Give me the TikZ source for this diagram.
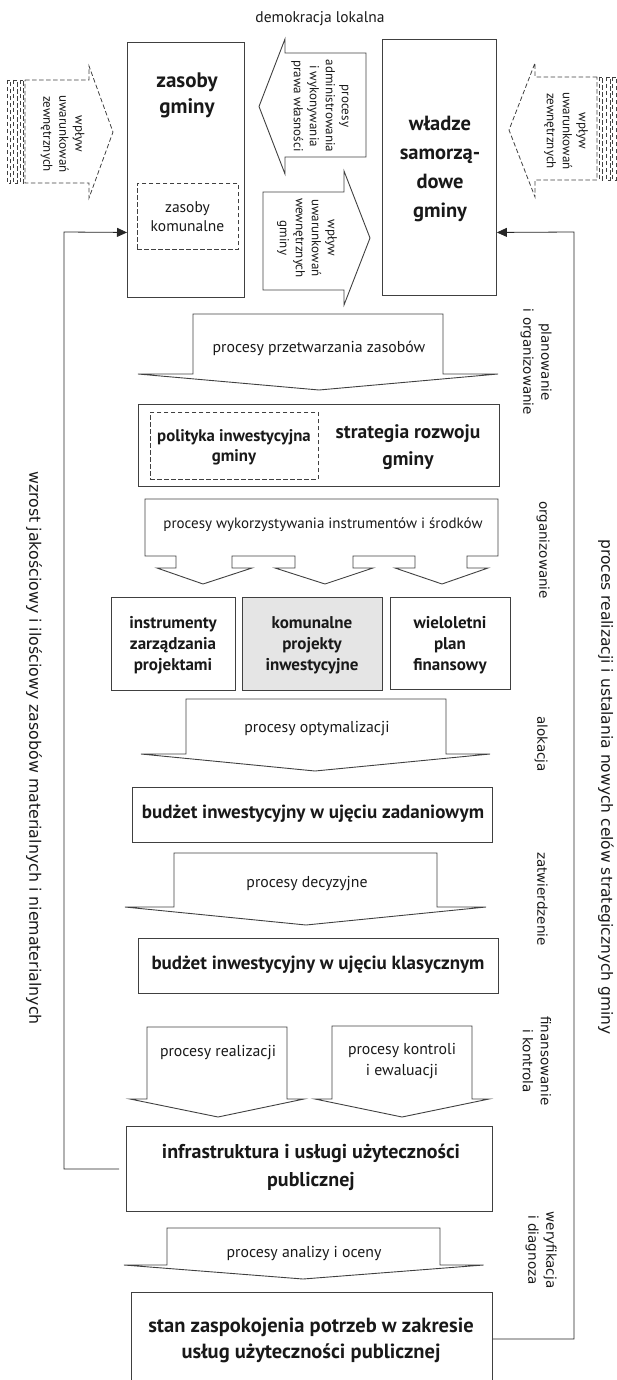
\documentclass[tikz,border=0pt]{standalone}
\usepackage{fontspec}
\setmainfont{PT Sans}
\newfontfamily\sidefont{DejaVu Sans}
\usetikzlibrary{arrows.meta}
\begin{document}
\begin{tikzpicture}[x=1pt,y=-1pt,
  ln/.style={draw=black!75, line width=0.9pt, line join=miter},
  dsh/.style={draw=black!75, line width=0.8pt, dash pattern=on 4.5pt off 2.5pt},
  box/.style={ln, rectangle, inner sep=0pt, anchor=north west},
  dbox/.style={dsh, rectangle, inner sep=0pt, anchor=north west},
  txt/.style={inner sep=0pt, align=center, text=black!90, font=\fontsize{15.8}{18}\selectfont},
  btxt/.style={inner sep=0pt, align=center, text=black!90, font=\bfseries\fontsize{19}{24}\selectfont},
  rtxt/.style={inner sep=0pt, align=center, rotate=-90, text=black!90, font=\fontsize{13}{16}\selectfont},
  stxt/.style={inner sep=0pt, align=center, rotate=-90, text=black!90, font=\sidefont\fontsize{13.5}{18}\selectfont},
  fb/.style={draw=black!85, line width=0.8pt, -{Triangle[length=10pt,width=9pt]}}]
\useasboundingbox (0,0) rectangle (617,1380);

% ---- top row ----
\node[txt, font=\fontsize{15.5}{18}\selectfont] (demo) at (320,19) {demokracja lokalna};

\node[box, minimum width=117pt, minimum height=255pt] (zas) at (127,42) {};
\node[btxt, font=\bfseries\fontsize{21}{26}\selectfont] (zast) at (187,95) {zasoby\\gminy};
\node[dbox, minimum width=101pt, minimum height=66pt] (kom) at (137,183) {};
\node[txt, font=\fontsize{15.5}{19}\selectfont] (komt) at (187.5,216.5) {zasoby\\komunalne};

\node[box, minimum width=114.5pt, minimum height=256pt] (wladze) at (381.5,39) {};
\node[btxt, font=\bfseries\fontsize{20.5}{29}\selectfont] (wladzet) at (440,169) {władze\\samorzą-\\dowe\\gminy};

% arrow: procesy administrowania (left)
\draw[ln] (366,53) -- (285,53) -- (285,39) -- (259,106.5) -- (285,174) -- (285,157) -- (366,157) -- cycle;
\node[rtxt] (adm) at (320,106) {procesy\\administrowania\\i wykonywania\\prawa własności};

% arrow: wpływ uwarunkowań wewnętrznych (right)
\draw[ln] (263,192) -- (344,192) -- (344,171) -- (370,238) -- (344,305) -- (344,290) -- (263,290) -- cycle;
\node[rtxt] (wew) at (307,238) {wpływ\\uwarunkowań\\wewnętrznych\\gminy};

% dashed left arrow
\draw[dsh] (7,80) rectangle (10.5,183);
\draw[dsh] (13,80) rectangle (17,183);
\draw[dsh] (20.5,80) rectangle (23.5,183);
\draw[dsh] (25,80) -- (89,80) -- (89,66) -- (113,132) -- (89,198) -- (89,183) -- (25,183) -- cycle;
\node[rtxt] (zewL) at (62.5,134) {wpływ\\uwarunkowań\\zewnętrznych};

% dashed right arrow
\draw[dsh] (599.5,77) rectangle (602.5,180);
\draw[dsh] (606,77) rectangle (610,180);
\draw[dsh] (612.5,77) rectangle (616,180);
\draw[dsh] (597,77) -- (535,77) -- (535,63) -- (509,130) -- (535,197) -- (535,180) -- (597,180) -- cycle;
\node[rtxt] (zewR) at (566,131) {wpływ\\uwarunkowań\\zewnętrznych};

% ---- A1 ----
\draw[ln] (193,314) -- (443,314) -- (443,374) -- (498,374) -- (319,390) -- (138,374) -- (193,374) -- cycle;
\node[txt] (a1) at (319,348) {procesy przetwarzania zasobów};
\node[stxt] (plan) at (536,362) {planowanie\\i organizowanie};

\node[box, minimum width=361pt, minimum height=82pt] (strat) at (138,404) {};
\node[dbox, minimum width=168pt, minimum height=67pt] (pol) at (150,412) {};
\node[btxt, font=\bfseries\fontsize{16.8}{20}\selectfont] (polt) at (234,447) {polityka inwestycyjna\\gminy};
\node[btxt, font=\bfseries\fontsize{19.5}{27}\selectfont] (stratt) at (408,447.5) {strategia rozwoju\\gminy};

% ---- A2 (three heads) ----
\draw[ln] (145,499) -- (498,499) -- (498,556) -- (467,556) -- (467,568) -- (488,568) -- (442,584) -- (395,568) -- (415,568) -- (415,556) -- (353,556) -- (353,568) -- (373,568) -- (325,584) -- (275,568) -- (295,568) -- (295,556) -- (232,556) -- (232,568) -- (252,568) -- (203,584) -- (157,568) -- (176,568) -- (176,556) -- (145,556) -- cycle;
\node[txt, font=\fontsize{15}{18}\selectfont] (a2) at (323,525) {procesy wykorzystywania instrumentów i środków};
\node[stxt] (org) at (543,550) {organizowanie};

\node[box, minimum width=124pt, minimum height=93pt] (b1) at (111,597) {};
\node[box, fill=black!10, minimum width=140pt, minimum height=93pt] (b2) at (242,597) {};
\node[box, minimum width=120pt, minimum height=92pt] (b3) at (390,597) {};
\node[btxt, font=\bfseries\fontsize{17}{21}\selectfont] (b1t) at (173,645) {instrumenty\\zarządzania\\projektami};
\node[btxt, font=\bfseries\fontsize{17}{21}\selectfont] (b2t) at (312,645) {komunalne\\projekty\\inwestycyjne};
\node[btxt, font=\bfseries\fontsize{17}{21}\selectfont] (b3t) at (450,645) {wieloletni\\plan\\finansowy};

% ---- A3 ----
\draw[ln] (186,699) -- (446,699) -- (446,754) -- (490,754) -- (315,771) -- (141,754) -- (186,754) -- cycle;
\node[txt] (a3) at (317,729) {procesy optymalizacji};
\node[stxt] (alo) at (541,744) {alokacja};

\node[box, minimum width=360.5pt, minimum height=55pt] (zad) at (131.5,787) {};
\node[btxt] (zadt) at (313,814) {budżet inwestycyjny w ujęciu zadaniowym};

% ---- A4 ----
\draw[ln] (174,853) -- (437,853) -- (437,907) -- (486,907) -- (306,925) -- (125,907) -- (174,907) -- cycle;
\node[txt] (a4) at (307,884) {procesy decyzyjne};
\node[stxt] (zatw) at (542.5,899) {zatwierdzenie};

\node[box, minimum width=360pt, minimum height=55pt] (klas) at (138,938) {};
\node[btxt] (klast) at (318,965) {budżet inwestycyjny w ujęciu klasycznym};

% ---- A5 ----
\draw[ln] (147,1027) -- (287,1027) -- (287,1099) -- (304,1099) -- (218,1117) -- (130,1099) -- (147,1099) -- cycle;
\node[txt] (a5a) at (218,1053) {procesy realizacji};
\draw[ln] (332,1026) -- (472,1026) -- (472,1099) -- (489,1099) -- (402,1117) -- (315,1099) -- (332,1099) -- cycle;
\node[txt, font=\fontsize{15.8}{21}\selectfont] (a5b) at (402,1061.5) {procesy kontroli\\i ewaluacji};
\node[stxt] (fin) at (537,1061) {finansowanie\\i kontrola};

\node[box, minimum width=366pt, minimum height=85pt] (infra) at (126,1126) {};
\node[btxt, font=\bfseries\fontsize{20}{28}\selectfont] (infrat) at (311,1167) {infrastruktura i usługi użyteczności\\publicznej};

% ---- A6 ----
\draw[ln] (167,1228) -- (440,1228) -- (440,1265) -- (483.5,1265) -- (303,1279) -- (124,1265) -- (167,1265) -- cycle;
\node[txt] (a6) at (304,1254) {procesy analizy i oceny};
\node[stxt] (wer) at (541,1250) {weryfikacja\\i diagnoza};

\node[box, minimum width=361pt, minimum height=93pt] (stan) at (131,1292) {};
\node[btxt, font=\bfseries\fontsize{20.5}{26}\selectfont] (stant) at (311,1340) {stan zaspokojenia potrzeb w zakresie\\usług użyteczności publicznej};

% ---- side labels ----
\node[stxt, font=\sidefont\fontsize{15.8}{18}\selectfont] (wzrost) at (34,748) {wzrost jakościowy i ilościowy zasobów materialnych i niematerialnych};
\node[stxt, font=\sidefont\fontsize{15.5}{18}\selectfont] (proces) at (606,787) {proces realizacji i ustalania nowych celów strategicznych gminy};

% ---- feedback connectors ----
\coordinate (lb) at (64,232);
\coordinate (rb) at (574,232);
\draw[fb] ([xshift=-7pt]infra.west) -| (lb) -- ([yshift=-62.5pt]zas.west);
\draw[fb] (stan.east) -| (rb) -- ([yshift=-65pt]wladze.east);
\end{tikzpicture}
\end{document}
